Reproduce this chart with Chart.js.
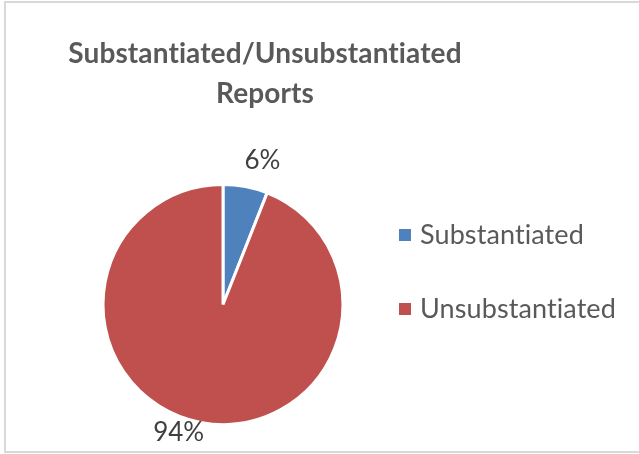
<!DOCTYPE html>
<html>
<head>
<meta charset="utf-8">
<script src="https://cdn.jsdelivr.net/npm/chart.js@4/dist/chart.umd.min.js"></script>
<style>
  html, body { margin: 0; padding: 0; background: #ffffff; }
  #wrap { width: 639px; height: 454px; }
</style>
</head>
<body>
<div id="wrap"><canvas id="c" width="639" height="454"></canvas></div>
<script>
const titleLines = ["Substantiated/Unsubstantiated", "Reports"];
const categories = ["Substantiated", "Unsubstantiated"];
const percentValues = [6, 94];
const sliceColors = ["#4F81BD", "#C0504D"];

function noLigatures(ctx) {
  if ('letterSpacing' in ctx) ctx.letterSpacing = '0.1px';
}

const framePlugin = {
  id: 'frame',
  beforeDraw(chart) {
    const ctx = chart.ctx;
    ctx.save();
    ctx.fillStyle = '#ffffff';
    ctx.fillRect(0, 0, chart.width, chart.height);
    ctx.strokeStyle = '#d9d9d9';
    ctx.lineWidth = 2;
    ctx.strokeRect(5, 2, 700, 450);
    ctx.restore();
  }
};

const titlePlugin = {
  id: 'excelTitle',
  afterDraw(chart, args, opts) {
    const ctx = chart.ctx;
    ctx.save();
    ctx.font = opts.font;
    noLigatures(ctx);
    ctx.fillStyle = opts.color;
    ctx.textAlign = 'center';
    ctx.textBaseline = 'alphabetic';
    opts.lines.forEach((t, i) => {
      ctx.fillText(t, opts.x, opts.baseline + i * opts.lineHeight);
    });
    ctx.restore();
  }
};

const legendPlugin = {
  id: 'sideLegend',
  afterDraw(chart, args, opts) {
    const ctx = chart.ctx;
    const labels = chart.data.labels;
    const colors = chart.data.datasets[0].backgroundColor;
    ctx.save();
    ctx.font = opts.font;
    noLigatures(ctx);
    ctx.textAlign = 'left';
    ctx.textBaseline = 'middle';
    labels.forEach((lab, i) => {
      const cy = opts.top + i * opts.spacing;
      ctx.fillStyle = colors[i];
      ctx.fillRect(opts.left, cy - opts.box / 2, opts.box, opts.box);
      ctx.fillStyle = opts.color;
      ctx.fillText(lab, opts.left + opts.box + opts.gap, cy);
    });
    ctx.restore();
  }
};

const labelPlugin = {
  id: 'sliceLabels',
  afterDatasetsDraw(chart, args, opts) {
    const ctx = chart.ctx;
    const meta = chart.getDatasetMeta(0);
    ctx.save();
    ctx.font = opts.font;
    ctx.fillStyle = opts.color;
    ctx.textAlign = 'center';
    ctx.textBaseline = 'middle';
    meta.data.forEach((arc, i) => {
      const p = arc.getProps(['x', 'y', 'startAngle', 'endAngle', 'outerRadius'], true);
      const mid = (p.startAngle + p.endAngle) / 2;
      const r = p.outerRadius + opts.distance;
      const off = opts.offsets[i] || [0, 0];
      const x = p.x + Math.cos(mid) * r + off[0];
      const y = p.y + Math.sin(mid) * r + off[1];
      ctx.fillText(percentValues[i] + '%', x, y);
    });
    ctx.restore();
  }
};

new Chart(document.getElementById('c'), {
  type: 'pie',
  data: {
    labels: categories,
    datasets: [{
      data: percentValues,
      backgroundColor: sliceColors,
      borderColor: '#ffffff',
      borderWidth: 3
    }]
  },
  options: {
    responsive: false,
    animation: false,
    devicePixelRatio: 1,
    layout: { padding: { left: 101, right: 294, top: 183, bottom: 28 } },
    plugins: {
      tooltip: { enabled: false },
      title: { display: false },
      legend: { display: false },
      excelTitle: {
        lines: titleLines,
        font: 'bold 28px Lato',
        color: '#595959',
        x: 265,
        baseline: 63,
        lineHeight: 40
      },
      sideLegend: {
        font: '27px Lato',
        color: '#595959',
        left: 399,
        top: 235,
        spacing: 74,
        box: 12,
        gap: 9
      },
      sliceLabels: {
        font: '26px Lato',
        color: '#404040',
        distance: 26,
        offsets: [[12, 0], [-17, -15]]
      }
    }
  },
  plugins: [framePlugin, titlePlugin, legendPlugin, labelPlugin]
});
</script>
</body>
</html>
